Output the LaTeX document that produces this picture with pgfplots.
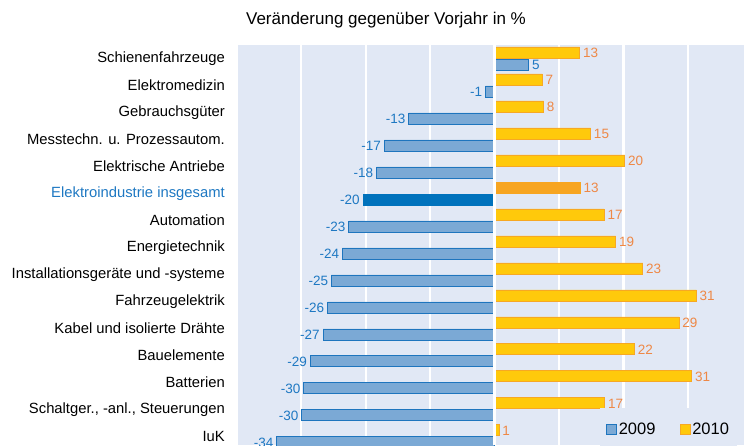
\documentclass[border=0pt]{standalone}
\usepackage{pgfplots}
\pgfplotsset{compat=1.18}
\usepackage{fontspec}
\setmainfont{Liberation Sans}
\definecolor{bg}{RGB}{225,232,245}
\definecolor{bfill}{RGB}{123,169,213}
\definecolor{bdraw}{RGB}{30,117,190}
\definecolor{bhi}{RGB}{0,114,188}
\definecolor{yfill}{RGB}{255,201,11}
\definecolor{ydraw}{RGB}{247,168,35}
\definecolor{yhi}{RGB}{247,165,33}
\definecolor{blab}{RGB}{30,120,194}
\definecolor{olab}{RGB}{238,136,70}
\begin{document}
\begin{tikzpicture}
\useasboundingbox (0,0) rectangle (744pt,445pt);
\clip (0,0) rectangle (744pt,445pt);
\node[font=\fontsize{17}{20}\selectfont] at (386pt,425pt) {Veränderung gegenüber Vorjahr in \%};
\begin{axis}[
  at={(238pt,0pt)}, anchor=south west,
  width=506pt, height=400pt, scale only axis,
  xmin=-39.8, xmax=38.7, ymin=-0.32, ymax=14.5,
  xbar, bar width=11pt,
  axis background/.style={fill=bg},
  axis line style={draw=none},
  xtick={-30,-20,-10,0,10,20,30}, xticklabel=\empty,
  xmajorgrids, major grid style={white, line width=2.2pt},
  ytick={0,...,14},
  yticklabels={IuK, {Schaltger., -anl., Steuerungen}, Batterien, Bauelemente, Kabel und isolierte Drähte, Fahrzeugelektrik, Installationsgeräte und -systeme, Energietechnik, Automation, \textcolor{blab}{Elektroindustrie insgesamt}, Elektrische Antriebe, Messtechn. u. Prozessautom., Gebrauchsgüter, Elektromedizin, Schienenfahrzeuge},
  major tick length=0pt,
  yticklabel style={font=\fontsize{14.8}{17}\selectfont, inner sep=0pt, xshift=-13pt, text=black},
  point meta=x,
  /pgf/number format/.cd, fixed, precision=0, assume math mode=true, /pgfplots/.cd,
  every node near coord/.append style={font=\fontsize{13.5}{16}\selectfont, inner sep=3pt},
  legend style={at={(0.715,0.04)}, anchor=west, fill=bg, draw=none,
    font=\fontsize{16.5}{19}\selectfont, inner xsep=6pt, inner ysep=12pt,
    /tikz/every even column/.append style={column sep=22pt}},
  legend columns=2,
]
% 2009 (negative, normal)
\addplot[draw=bdraw, fill=bfill, line width=0.8pt, bar shift=-6pt,
  nodes near coords, nodes near coords style={anchor=east, text=blab},
  legend image code/.code={\draw[draw=bdraw, fill=bfill, line width=0.8pt] (0pt,-5pt) rectangle (10pt,5pt);}]
  coordinates {(-1.4,13) (-13.3,12) (-17.1,11) (-18.3,10) (-22.6,8) (-23.6,7) (-25.3,6) (-25.9,5) (-26.6,4) (-28.6,3) (-29.6,2) (-29.9,1) (-33.8,0)};
\addlegendentry{2009}
% 2010 normal
\addplot[draw=ydraw, fill=yfill, line width=0.8pt, bar shift=6pt,
  nodes near coords, nodes near coords style={anchor=west, text=olab},
  legend image code/.code={\draw[draw=ydraw, fill=yfill, line width=0.8pt] (0pt,-5pt) rectangle (10pt,5pt);}]
  coordinates {(13.2,14) (7.4,13) (7.6,12) (14.9,11) (20.2,10) (17.0,8) (18.8,7) (23.0,6) (31.3,5) (28.6,4) (21.7,3) (30.6,2) (17.1,1) (0.7,0)};
\addlegendentry{2010}
% 2009 positive
\addplot[forget plot, draw=bdraw, fill=bfill, line width=0.8pt, bar shift=-6pt,
  nodes near coords, nodes near coords style={anchor=west, text=blab}]
  coordinates {(5.3,14)};
% 2009 highlight
\addplot[forget plot, draw=bhi, fill=bhi, line width=0.8pt, bar shift=-6pt,
  nodes near coords, nodes near coords style={anchor=east, text=blab}]
  coordinates {(-20.4,9)};
% 2010 highlight
\addplot[forget plot, draw=yhi, fill=yhi, line width=0.8pt, bar shift=6pt,
  nodes near coords, nodes near coords style={anchor=west, text=olab}]
  coordinates {(13.3,9)};
\draw[white, line width=2.6pt] (axis cs:0,-0.32) -- (axis cs:0,14.5);
\end{axis}
\end{tikzpicture}
\end{document}
